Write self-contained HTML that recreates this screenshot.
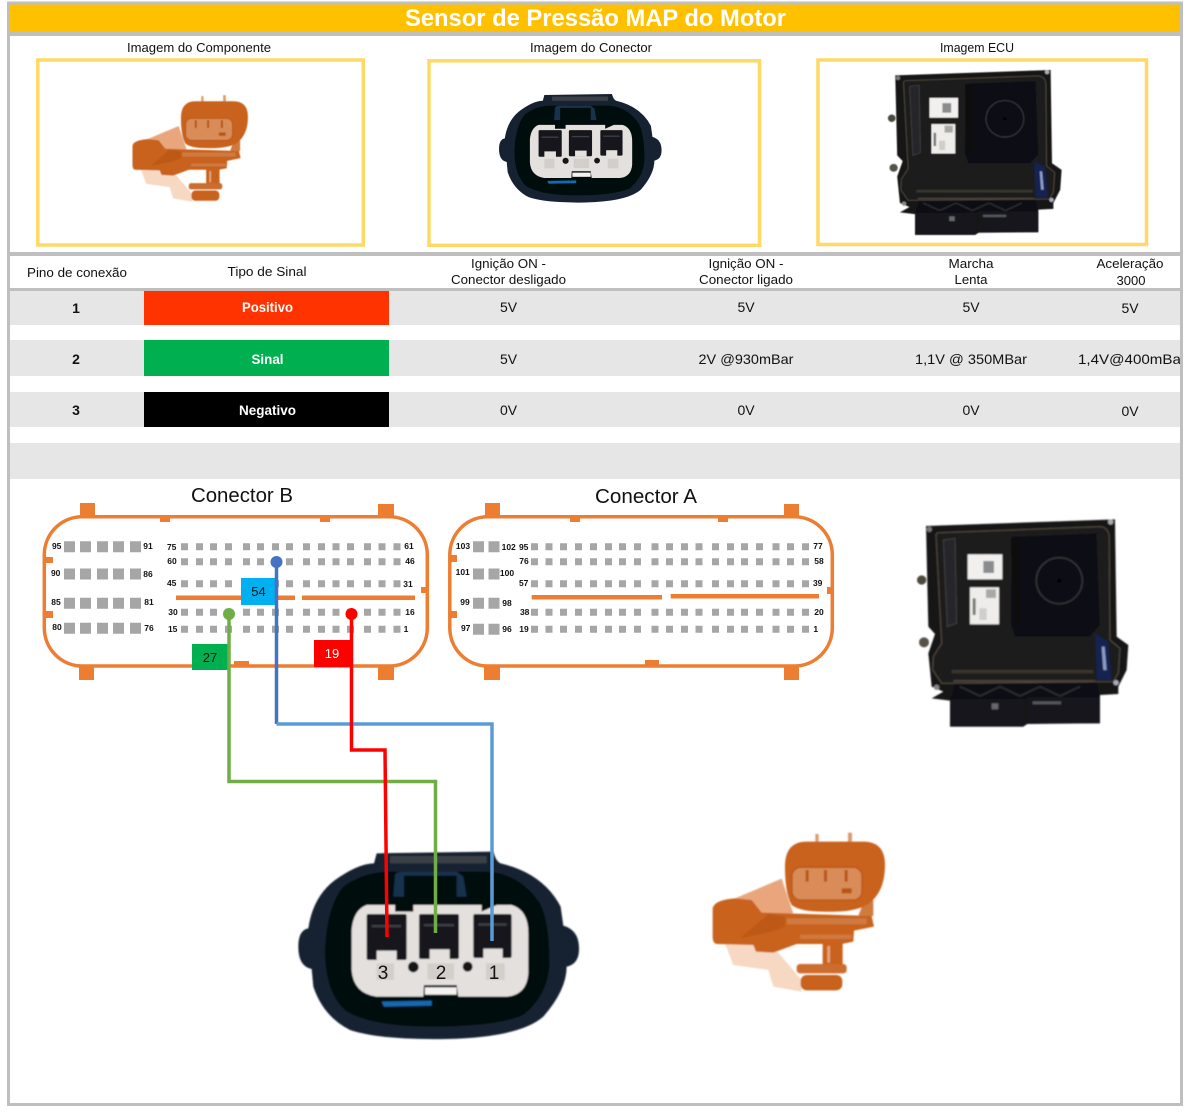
<!DOCTYPE html>
<html lang="pt"><head><meta charset="utf-8"><title>Sensor de Pressão MAP do Motor</title>
<style>
html,body{margin:0;padding:0;background:#fff}
svg{display:block}
text{font-family:"Liberation Sans",sans-serif;fill:#111}
.h{font-size:12.5px;text-anchor:middle}
.v{font-size:14px;text-anchor:middle}
.c{font-size:14px;font-weight:bold;text-anchor:middle;fill:#fff}
.n{font-size:14px;font-weight:bold;text-anchor:middle}
.p{font-size:8.5px;font-weight:bold;text-anchor:middle}
.o{fill:#ed7d31}
</style></head><body>
<svg width="1187" height="1113" viewBox="0 0 1187 1113" xmlns="http://www.w3.org/2000/svg">
<defs>
<filter id="b" x="-5%" y="-5%" width="110%" height="110%"><feGaussianBlur stdDeviation="2"/></filter>
<g id="sensor" filter="url(#b)">
<path d="M105,400L245,405L335,510L335,545L250,530L235,480L130,465Z" fill="#f6d8c3"/>
<path d="M135,265L275,206L310,310L180,315Z" fill="#e9a67c"/>
<path d="M68,295Q72,270 135,265L185,270L215,308L545,318L552,350L492,362L490,395L455,402L320,402L250,428L198,425L190,405L80,402Q68,400 68,380Z" fill="#c8621f"/>
<path d="M150,385L235,312L285,320L285,350L245,365Z" fill="#bd5818"/>
<rect x="290" y="325" width="240" height="18" fill="#d0793f"/>
<rect x="330" y="374" width="155" height="13" fill="#d0793f"/>
<rect x="398" y="395" width="60" height="75" fill="#c8621f"/>
<rect x="412" y="408" width="8" height="50" fill="#e9a67c"/>
<rect x="320" y="462" width="150" height="28" rx="10" fill="#cc6d2d"/>
<rect x="332" y="495" width="125" height="46" rx="18" fill="#c8621f"/>
<rect x="376" y="72" width="10" height="26" fill="#dc9a6c"/>
<rect x="474" y="68" width="12" height="30" fill="#dc9a6c"/>
<path d="M525,265L550,270L550,318L505,318Z" fill="#d07a3e"/>
<path d="M285,170Q285,95 350,95L520,95Q585,95 585,165Q585,250 530,285Q490,308 400,305Q330,305 305,285Q285,250 285,170Z" fill="#c8621f"/>
<rect x="306" y="172" width="210" height="98" rx="26" fill="#d98c58" stroke="#b85416" stroke-width="4"/>
<g fill="#b85416"><rect x="347" y="180" width="9" height="35"/><rect x="402" y="180" width="9" height="35"/><rect x="464" y="180" width="9" height="35"/><rect x="455" y="235" width="30" height="15"/></g>
</g>
<g id="conn" filter="url(#b)">
<path d="M290,70L640,65Q648,95 662,100Q790,130 842,230L850,287Q895,300 897,350Q900,402 860,410Q860,480 790,560Q720,622 500,627Q300,630 210,600Q130,560 100,470L95,417Q55,410 55,350Q55,300 85,295Q100,190 180,140Q240,100 282,100Z" fill="#172030"/>
<path d="M190,170Q250,125 330,125L620,125Q720,130 780,220Q810,280 808,410Q800,500 730,555Q650,590 450,590Q280,590 200,545Q135,490 135,360Q140,230 190,170Z" fill="#050709"/>
<rect x="330" y="78" width="290" height="22" fill="#3a3f46"/>
<path d="M340,200L345,135Q350,125 370,125L530,125L550,140L560,200Z" fill="#12304e"/>
<rect x="372" y="137" width="158" height="85" fill="#050709"/>
<path d="M260,225L345,225L345,245L400,245L400,225L605,225L605,245L650,225L695,225Q745,240 745,310L745,430Q740,495 680,500L535,500L530,465L432,465L430,500L290,500Q220,490 215,420L215,300Q220,240 260,225Z" fill="#e4e0dd"/>
<g fill="#14161a">
<rect x="260" y="252" width="120" height="138" rx="6"/><rect x="417" y="252" width="120" height="135" rx="6"/><rect x="580" y="252" width="115" height="132" rx="6"/>
</g>
<g fill="#e4e0dd">
<rect x="290" y="362" width="60" height="30"/><rect x="449" y="358" width="60" height="30"/><rect x="610" y="356" width="58" height="30"/>
</g>
<g fill="#3d4046"><rect x="275" y="285" width="88" height="7"/><rect x="432" y="282" width="90" height="7"/><rect x="595" y="280" width="85" height="7"/></g>
<g fill="#d2cfcb"><rect x="290" y="400" width="52" height="50"/><rect x="442" y="400" width="80" height="48"/><rect x="618" y="400" width="56" height="50"/></g>
<circle cx="400" cy="411" r="16" fill="#141414"/><circle cx="563" cy="410" r="15" fill="#141414"/>
<rect x="435" y="472" width="95" height="22" fill="#f3f2f1"/>
<path d="M305,515L455,512L455,527L312,530Z" fill="#1668b0"/>
</g>
<g id="ecu" filter="url(#b)">
<path d="M78,48L645,28L650,380L685,405L680,480L655,530L655,552L600,555L600,640L382,642L370,650L150,650L150,572L95,565L130,545L95,530L85,430L105,372L85,350Z" fill="#151518"/>
<path d="M108,75Q108,68 120,68L600,50Q628,52 628,85L630,390L660,415L655,490L640,515L125,520L98,480L100,440L125,400Z" fill="#1a1b1e" stroke="#554c40" stroke-width="3"/>
<path d="M130,90L165,85L170,340L142,350Z" fill="#25272b" stroke="#4a4a4c" stroke-width="2"/>
<path d="M335,80L590,70L600,345L570,380L345,380L332,340Z" fill="#0f1014"/>
<path d="M332,85L358,85L362,330L342,350Z" fill="#0a0a0d"/>
<circle cx="478" cy="212" r="69" fill="#101115" stroke="#38393b" stroke-width="4"/><circle cx="478" cy="212" r="6" fill="#000"/>
<rect x="203" y="133" width="104" height="75" fill="#f1f0ee"/><rect x="210" y="232" width="87" height="111" fill="#eeedea"/>
<rect x="250" y="153" width="32" height="36" fill="#8b8c8e"/><rect x="258" y="238" width="30" height="26" fill="#a8a8a8"/><rect x="218" y="265" width="9" height="50" fill="#77777a"/><rect x="238" y="295" width="22" height="35" fill="#cfcecb"/>
<path d="M585,370L625,395L635,510L590,510Z" fill="#14224f"/><path d="M605,410L614,410L620,480L610,480Z" fill="#8d9cc8"/>
<rect x="155" y="480" width="425" height="10" fill="#3a352f"/><rect x="160" y="510" width="425" height="6" fill="#4a4238"/>
<path d="M165,522L590,518L600,562L150,570Z" fill="#0f1012"/>
<path d="M180,530L240,558M300,530L240,558M300,530L360,558M420,530L360,558M420,530L480,558M540,530L480,558" stroke="#2b2b2d" stroke-width="6" fill="none"/>
<rect x="150" y="568" width="220" height="82" fill="#17191e"/><rect x="382" y="562" width="218" height="78" fill="#17191e"/>
<rect x="275" y="580" width="20" height="18" fill="#66676a"/><rect x="398" y="574" width="85" height="9" fill="#55565a"/>
<circle cx="88" cy="58" r="8" fill="#777"/><circle cx="632" cy="36" r="8" fill="#aaa"/><circle cx="110" cy="532" r="8" fill="#888"/><circle cx="648" cy="518" r="8" fill="#aab"/>
<circle cx="65" cy="210" r="14" fill="#4b4a3e"/><circle cx="72" cy="397" r="15" fill="#55534a"/>
</g>
<path id="rb" d="M181 0h7M196 0h7M210 0h7M225 0h7M243 0h7M257 0h7M272 0h7M286 0h7M303 0h7M318 0h7M332.500 0h7M347 0h7M364 0h7M378.500 0h7M393.500 0h7" stroke="#a6a6a6" stroke-width="7" fill="none"/>
<path id="ra" d="M531 0h7M545.500 0h7M560 0h7M575 0h7M590 0h7M605 0h7M619 0h7M634 0h7M651.500 0h7M666 0h7M681 0h7M695.500 0h7M712 0h7M727 0h7M741 0h7M756 0h7M772.500 0h7M787 0h7M802 0h7" stroke="#a6a6a6" stroke-width="7" fill="none"/>
<path id="lb" d="M64 0h11M80 0h11M97 0h11M113 0h11M130 0h11" stroke="#a6a6a6" stroke-width="11" fill="none"/>
<path id="la" d="M473 0h11M488.500 0h11" stroke="#a6a6a6" stroke-width="11" fill="none"/>
</defs>

<rect width="1187" height="1113" fill="#fff"/>

<!-- title -->
<rect x="9" y="4" width="1172" height="28" fill="#ffc000"/>
<text x="595.500" y="26" text-anchor="middle" font-size="24" font-weight="bold" style="fill:#fff" textLength="381" lengthAdjust="spacingAndGlyphs">Sensor de Pressão MAP do Motor</text>
<rect x="9" y="32" width="1172" height="4" fill="#bfbfbf"/>

<text class="h" x="199" y="52" textLength="144" lengthAdjust="spacingAndGlyphs">Imagem do Componente</text>
<text class="h" x="591" y="52" textLength="122" lengthAdjust="spacingAndGlyphs">Imagem do Conector</text>
<text class="h" x="977" y="52" textLength="74" lengthAdjust="spacingAndGlyphs">Imagem ECU</text>

<g fill="none" stroke="#ffd966" stroke-width="3.500">
<rect x="37.800" y="60" width="325.500" height="185"/>
<rect x="429" y="60.800" width="330.500" height="184.500"/>
<rect x="818" y="60" width="328.500" height="184.500"/>
</g>
<use href="#sensor" transform="translate(117.300,80) scale(.2233)"/>
<use href="#conn" transform="translate(488.400,81.500) scale(.193)"/>
<use href="#ecu" transform="translate(873.900,62.600) scale(.274,.265)"/>

<!-- table -->
<rect x="9" y="252" width="1172" height="4" fill="#bfbfbf"/>
<rect x="9" y="288" width="1172" height="3" fill="#bfbfbf"/>
<text class="h" x="77" y="277" textLength="100" lengthAdjust="spacingAndGlyphs">Pino de conexão</text>
<text class="h" x="267" y="276" textLength="79" lengthAdjust="spacingAndGlyphs">Tipo de Sinal</text>
<text class="h" x="508.500" y="268" textLength="75" lengthAdjust="spacingAndGlyphs">Ignição ON -</text>
<text class="h" x="508.500" y="284" textLength="115" lengthAdjust="spacingAndGlyphs">Conector desligado</text>
<text class="h" x="746" y="268" textLength="75" lengthAdjust="spacingAndGlyphs">Ignição ON -</text>
<text class="h" x="746" y="284" textLength="94" lengthAdjust="spacingAndGlyphs">Conector ligado</text>
<text class="h" x="971" y="268" textLength="45" lengthAdjust="spacingAndGlyphs">Marcha</text>
<text class="h" x="971" y="284" textLength="33" lengthAdjust="spacingAndGlyphs">Lenta</text>
<text class="h" x="1130" y="268" textLength="67" lengthAdjust="spacingAndGlyphs">Aceleração</text>
<text class="h" x="1131" y="285" textLength="29" lengthAdjust="spacingAndGlyphs">3000</text>

<g fill="#e7e6e6">
<rect x="9" y="291" width="1172" height="34"/>
<rect x="9" y="340" width="1172" height="36"/>
<rect x="9" y="392" width="1172" height="35"/>
<rect x="9" y="443" width="1172" height="36"/>
</g>
<rect x="144" y="291" width="245" height="34" fill="#ff3300"/>
<rect x="144" y="340" width="245" height="36" fill="#00b050"/>
<rect x="144" y="392" width="245" height="35" fill="#000"/>
<text class="n" x="76" y="313">1</text><text class="n" x="76" y="364">2</text><text class="n" x="76" y="415">3</text>
<text class="c" style="fill:#fff" x="267.500" y="312" textLength="51" lengthAdjust="spacingAndGlyphs">Positivo</text>
<text class="c" style="fill:#fff" x="267.500" y="364" textLength="32" lengthAdjust="spacingAndGlyphs">Sinal</text>
<text class="c" style="fill:#fff" x="267.500" y="415" textLength="57" lengthAdjust="spacingAndGlyphs">Negativo</text>
<g>
<text class="v" x="508.500" y="312">5V</text><text class="v" x="746" y="312">5V</text><text class="v" x="971" y="312">5V</text><text class="v" x="1130" y="313">5V</text>
<text class="v" x="508.500" y="364">5V</text><text class="v" x="746" y="364" textLength="95" lengthAdjust="spacingAndGlyphs">2V @930mBar</text><text class="v" x="971" y="364" textLength="112" lengthAdjust="spacingAndGlyphs">1,1V @ 350MBar</text><text class="v" x="1132" y="364" textLength="108" lengthAdjust="spacingAndGlyphs">1,4V@400mBar</text>
<text class="v" x="508.500" y="415">0V</text><text class="v" x="746" y="415">0V</text><text class="v" x="971" y="415">0V</text><text class="v" x="1130" y="416">0V</text>
</g>

<!-- Connector B -->
<text x="242" y="502" text-anchor="middle" font-size="20" textLength="102" lengthAdjust="spacingAndGlyphs">Conector B</text>
<g class="o">
<rect x="80" y="503" width="15" height="14"/><rect x="378" y="504" width="16" height="13"/><rect x="160" y="516" width="10" height="6"/><rect x="320" y="516" width="10" height="6"/>
<rect x="79" y="666" width="15" height="14"/><rect x="378" y="666" width="16" height="14"/><rect x="234" y="661" width="15" height="5"/>
<rect x="45" y="557" width="8" height="6"/><rect x="45" y="611" width="8" height="7"/><rect x="421" y="587" width="7" height="6"/>
<rect x="176" y="595.500" width="119" height="4.500"/><rect x="302" y="595.500" width="113" height="4.500"/>
</g>
<rect x="44.300" y="516.700" width="383" height="149.300" rx="38" fill="none" stroke="#ed7d31" stroke-width="3.500"/>
<use href="#lb" y="546.700"/><use href="#lb" y="574"/><use href="#lb" y="603.300"/><use href="#lb" y="628.300"/>
<use href="#rb" y="546.700"/><use href="#rb" y="561.700"/><use href="#rb" y="583.700"/><use href="#rb" y="612.300"/><use href="#rb" y="629.300"/>
<g>
<text class="p" x="56.700" y="549">95</text><text class="p" x="148" y="549">91</text><text class="p" x="55.700" y="576">90</text><text class="p" x="148" y="577">86</text><text class="p" x="56" y="605">85</text><text class="p" x="149" y="605">81</text><text class="p" x="57" y="630">80</text><text class="p" x="149" y="631">76</text>
<text class="p" x="171.700" y="550">75</text><text class="p" x="172" y="564">60</text><text class="p" x="171.700" y="586">45</text><text class="p" x="173" y="615">30</text><text class="p" x="172.700" y="632">15</text>
<text class="p" x="409" y="549">61</text><text class="p" x="410" y="564">46</text><text class="p" x="408" y="587">31</text><text class="p" x="410" y="615">16</text><text class="p" x="406" y="632">1</text>
</g>

<!-- Connector A -->
<text x="646" y="503" text-anchor="middle" font-size="20" textLength="102" lengthAdjust="spacingAndGlyphs">Conector A</text>
<g class="o">
<rect x="485" y="503" width="15" height="14"/><rect x="784" y="504" width="15" height="13"/><rect x="570" y="516" width="10" height="6"/><rect x="718" y="516" width="10" height="6"/>
<rect x="484" y="666" width="16" height="14"/><rect x="784" y="666" width="15" height="14"/><rect x="645" y="660" width="14" height="6"/>
<rect x="449" y="555" width="8" height="7"/><rect x="449" y="611" width="8" height="7"/><rect x="827" y="587" width="6" height="7"/>
<rect x="531.700" y="595" width="130.300" height="4.500"/><rect x="670.700" y="594" width="148.300" height="4.500"/>
</g>
<rect x="449.800" y="516.700" width="382.500" height="149.300" rx="38" fill="none" stroke="#ed7d31" stroke-width="3.500"/>
<use href="#la" y="546.700"/><use href="#la" y="574"/><use href="#la" y="603.300"/><use href="#la" y="629.300"/>
<use href="#ra" y="546.700"/><use href="#ra" y="561.700"/><use href="#ra" y="583.700"/><use href="#ra" y="612.300"/><use href="#ra" y="629.300"/>
<g>
<text class="p" x="463" y="549">103</text><text class="p" x="508.700" y="550">102</text><text class="p" x="523.700" y="550">95</text><text class="p" x="818" y="549">77</text>
<text class="p" x="524" y="564">76</text><text class="p" x="819" y="564">58</text><text class="p" x="462.700" y="575">101</text><text class="p" x="507" y="576">100</text>
<text class="p" x="523.700" y="586">57</text><text class="p" x="817.700" y="586">39</text><text class="p" x="465" y="605">99</text><text class="p" x="507" y="606">98</text>
<text class="p" x="524.700" y="615">38</text><text class="p" x="819" y="615">20</text><text class="p" x="465.700" y="631">97</text><text class="p" x="507" y="632">96</text>
<text class="p" x="524" y="632">19</text><text class="p" x="815.700" y="632">1</text>
</g>

<!-- right images -->
<use href="#ecu" transform="translate(900,510) scale(.3333)"/>
<use href="#sensor" transform="translate(690,810) scale(.3333)"/>

<!-- lower connector -->
<use href="#conn" transform="translate(280,830) scale(.3333)"/>
<text x="383" y="979" text-anchor="middle" font-size="19">3</text>
<text x="441" y="979" text-anchor="middle" font-size="19">2</text>
<text x="494" y="979" text-anchor="middle" font-size="19">1</text>

<!-- wires -->
<rect x="241" y="578" width="37" height="27" fill="#00b0f0"/>
<rect x="192" y="644" width="37" height="26" fill="#00b050"/>
<rect x="314" y="640" width="38" height="27" fill="#f00"/>
<text x="258.500" y="596" text-anchor="middle" font-size="13">54</text>
<text x="210" y="662" text-anchor="middle" font-size="13">27</text>
<text x="332" y="658" text-anchor="middle" font-size="13" style="fill:#fff">19</text>

<path d="M229 614V781.500H435.500V933" fill="none" stroke="#70ad47" stroke-width="3.500"/>
<path d="M276.500 562V724" fill="none" stroke="#4472c4" stroke-width="3.500"/>
<path d="M276.500 724H492V941" fill="none" stroke="#5b9bd5" stroke-width="3.500"/>
<path d="M351.500 614V750H385L387 937" fill="none" stroke="#f00" stroke-width="3.500"/>
<circle cx="276.500" cy="562" r="6" fill="#4472c4"/>
<circle cx="229" cy="614" r="6" fill="#70ad47"/>
<circle cx="351.500" cy="614" r="6" fill="#f00"/>

<!-- outer frame -->
<rect x="8.500" y="3" width="1173" height="1101.500" fill="none" stroke="#bfbfbf" stroke-width="3"/>
<rect x="1183" y="0" width="4" height="1113" fill="#fff"/>
</svg>
</body></html>
